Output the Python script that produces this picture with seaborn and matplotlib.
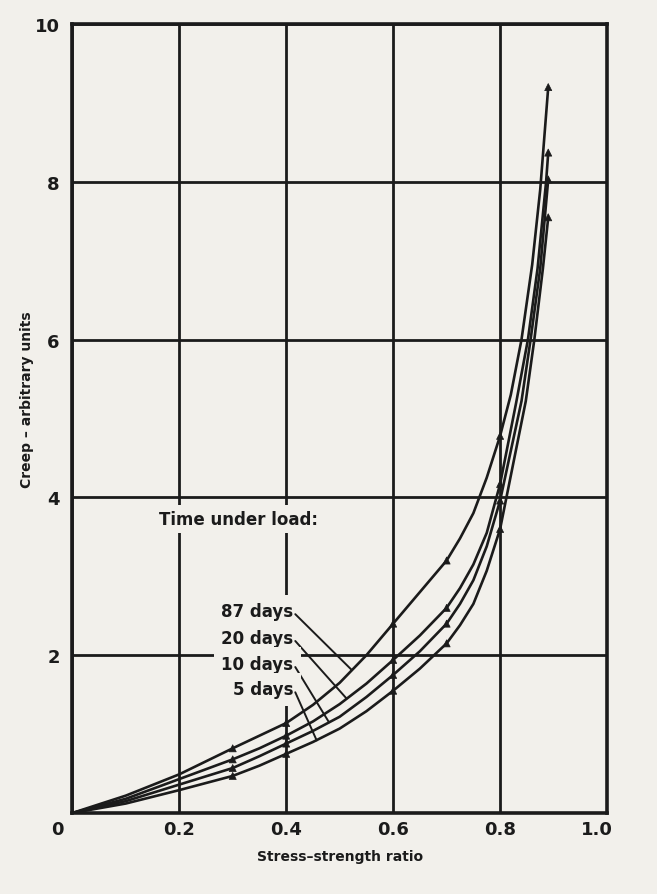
import numpy as np
import pandas as pd
import matplotlib
matplotlib.use("Agg")
import matplotlib.pyplot as plt
from matplotlib.transforms import ScaledTranslation
import seaborn as sns

# ---- data ----
series_names = ["87 days", "20 days", "10 days", "5 days"]

curve_x_87 = [0, 0.1, 0.2, 0.3, 0.35, 0.4, 0.45, 0.5, 0.55, 0.6, 0.65, 0.7, 0.725, 0.75, 0.775,
              0.8, 0.82, 0.84, 0.86, 0.875, 0.89]
curve_y_87 = [0, 0.22, 0.49, 0.82, 0.98, 1.14, 1.37, 1.65, 2.0, 2.4, 2.8, 3.2, 3.48, 3.8, 4.25,
              4.78, 5.3, 6.0, 6.95, 7.9, 9.2]

curve_x_20 = [0, 0.1, 0.2, 0.3, 0.35, 0.4, 0.45, 0.5, 0.55, 0.6, 0.65, 0.7, 0.725, 0.75, 0.775,
              0.8, 0.83, 0.852, 0.87, 0.886, 0.89]
curve_y_20 = [0, 0.18, 0.43, 0.68, 0.82, 0.98, 1.16, 1.38, 1.64, 1.94, 2.25, 2.6, 2.85, 3.15, 3.55,
              4.17, 5.2, 6.0, 6.9, 8.0, 8.37]

curve_x_10 = [0, 0.1, 0.2, 0.3, 0.35, 0.4, 0.45, 0.5, 0.55, 0.6, 0.65, 0.7, 0.725, 0.75, 0.775,
              0.8, 0.84, 0.857, 0.875, 0.89]
curve_y_10 = [0, 0.15, 0.36, 0.57, 0.72, 0.88, 1.04, 1.22, 1.47, 1.75, 2.05, 2.4, 2.65, 2.95, 3.38,
              3.96, 5.22, 6.0, 6.9, 8.03]

curve_x_5 = [0, 0.1, 0.2, 0.3, 0.35, 0.4, 0.45, 0.5, 0.55, 0.6, 0.65, 0.7, 0.725, 0.75, 0.775,
             0.8, 0.848, 0.864, 0.88, 0.89]
curve_y_5 = [0, 0.12, 0.29, 0.47, 0.6, 0.75, 0.9, 1.07, 1.29, 1.55, 1.83, 2.15, 2.38, 2.65, 3.07,
             3.6, 5.22, 6.0, 6.9, 7.55]

marker_x = [0.3, 0.4, 0.6, 0.7, 0.8, 0.89]
marker_y_87 = [0.82, 1.14, 2.4, 3.2, 4.78, 9.2]
marker_y_20 = [0.68, 0.98, 1.94, 2.6, 4.17, 8.37]
marker_y_10 = [0.57, 0.88, 1.75, 2.4, 3.96, 8.03]
marker_y_5 = [0.47, 0.75, 1.55, 2.15, 3.6, 7.55]

x_ticks = [0, 0.2, 0.4, 0.6, 0.8, 1.0]
x_tick_labels = ["0", "0.2", "0.4", "0.6", "0.8", "1.0"]
y_ticks = [0, 2, 4, 6, 8, 10]
y_tick_labels = ["", "2", "4", "6", "8", "10"]

# ---- tidy frames ----
curves = pd.concat([
    pd.DataFrame({"ratio": cx, "creep": cy, "series": name})
    for name, cx, cy in zip(series_names,
                            [curve_x_87, curve_x_20, curve_x_10, curve_x_5],
                            [curve_y_87, curve_y_20, curve_y_10, curve_y_5])
], ignore_index=True)
marks = pd.concat([
    pd.DataFrame({"ratio": marker_x, "creep": my, "series": name})
    for name, my in zip(series_names, [marker_y_87, marker_y_20, marker_y_10, marker_y_5])
], ignore_index=True)

# ---- style ----
sns.set_theme(style="white")
plt.rcParams["font.family"] = ["DejaVu Sans"]
ink = "#1b1b1b"
paper = "#f2f0eb"

fig = plt.figure(figsize=(6.57, 8.95), dpi=100)
fig.patch.set_facecolor(paper)
ax = fig.add_axes([0.110, 0.0905, 0.814, 0.8816])
ax.set_facecolor(paper)

pal = {n: ink for n in series_names}
sns.lineplot(data=curves, x="ratio", y="creep", hue="series", palette=pal,
             estimator=None, sort=False, lw=1.9, legend=False, ax=ax, zorder=4)
sns.scatterplot(data=marks, x="ratio", y="creep", hue="series", palette=pal,
                marker="^", s=26, edgecolor=ink, linewidth=0.5, legend=False,
                ax=ax, zorder=5)

ax.set_xlim(0, 1.0)
ax.set_ylim(0, 10)
ax.set_xticks(x_ticks)
ax.set_xticklabels(x_tick_labels, fontsize=13, fontweight="bold", color=ink)
ax.set_yticks(y_ticks)
ax.set_yticklabels(y_tick_labels, fontsize=13, fontweight="bold", color=ink)
ax.tick_params(axis="both", length=0)
ax.tick_params(axis="x", pad=5)
ax.tick_params(axis="y", pad=9)
# shift the corner "0" and the "1.0" a little to the left, as printed
xt = ax.get_xticklabels()
xt[0].set_transform(xt[0].get_transform() + ScaledTranslation(-15 / 100, 0, fig.dpi_scale_trans))
xt[-1].set_transform(xt[-1].get_transform() + ScaledTranslation(-10 / 100, 0, fig.dpi_scale_trans))

ax.grid(True, color=ink, lw=2.0, zorder=1)
ax.set_axisbelow(True)
for sp in ax.spines.values():
    sp.set_color(ink)
    sp.set_linewidth(2.6)

ax.set_xlabel("Stress\u2013strength ratio", fontsize=10, fontweight="bold", color=ink, labelpad=8)
ax.set_ylabel("Creep \u2013 arbitrary units", fontsize=10, fontweight="bold", color=ink)
ax.yaxis.set_label_coords(-0.072, 0.525)

# ---- annotations ----
ax.text(0.31, 3.72, "Time under load:", ha="center", va="center", fontsize=12,
        fontweight="bold", color=ink,
        bbox=dict(boxstyle="square,pad=0.3", fc=paper, ec="none"), zorder=3)

label_pos = [(0.413, 2.56), (0.413, 2.22), (0.413, 1.89), (0.413, 1.57)]
leader_ends = [(0.523, 1.81), (0.513, 1.45), (0.48, 1.15), (0.457, 0.92)]
for name, (tx, ty), (ex, ey) in zip(series_names, label_pos, leader_ends):
    ax.text(tx, ty, name, ha="right", va="center", fontsize=12, fontweight="bold",
            color=ink, bbox=dict(boxstyle="square,pad=0.45", fc=paper, ec="none"), zorder=3)
    ax.annotate("", xy=(ex, ey), xytext=(tx + 0.004, ty - 0.04),
                arrowprops=dict(arrowstyle="-", color=ink, lw=1.4,
                                shrinkA=0, shrinkB=0), zorder=3)

fig.savefig("out.png", dpi=100, facecolor=paper)
